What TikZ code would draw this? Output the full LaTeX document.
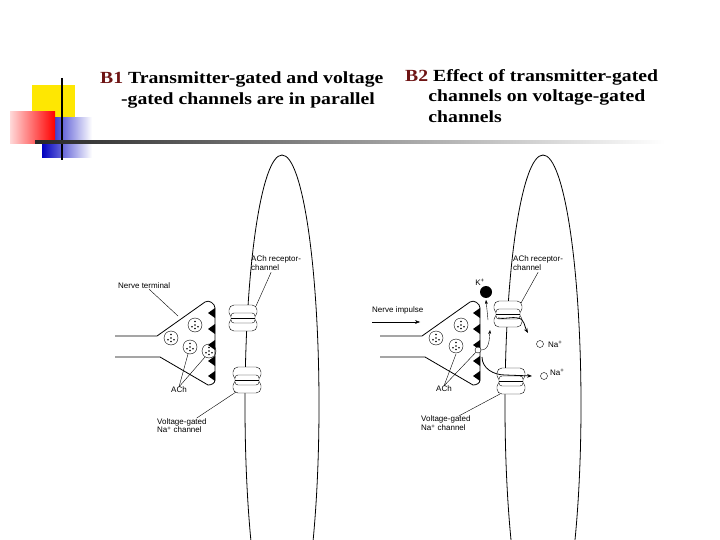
\documentclass[tikz,border=0pt]{standalone}
\usepackage{fontspec}
\setmainfont{Liberation Serif}
\setsansfont{Liberation Sans}
\usetikzlibrary{arrows.meta}
\definecolor{titlered}{RGB}{110,20,20}
\tikzset{
  lbl/.style={font=\sffamily\fontsize{8}{9}\selectfont, align=left, inner sep=0pt},
  lead/.style={thin},
  ttl/.style={font=\bfseries\fontsize{17}{20.5}\selectfont, align=left, inner sep=0pt, anchor=north west, transform shape, xscale=1.16},
  chan/.pic={
    \draw[fill=white, rounded corners=5pt] (-14,-13) rectangle (14,-0.5);
    \draw[fill=white, rounded corners=5pt] (-14,0.5) rectangle (14,13);
    \draw[fill=white, rounded corners=3pt] (-12,-5) -- (12,-5) -- (12,5) -- (-12,5) -- cycle;
    \draw (-12,0) -- (12,0);
  },
  vesicle/.pic={
    \draw (0,0) circle (7);
    \foreach \a in {30,150,270,90} \fill (\a:3.5) circle (0.9);
    \fill (0,0) circle (0.9);
  }
}
\newcommand{\terminal}[1]{%
  \begin{scope}[xshift=#1]
  \draw[thick] (115,336) -- (157,336) -- (205,302) to[out=35,in=90] (215,308) -- (215,380)
    to[out=-90,in=0] (208,385) -- (160,357) -- (115,357);
  \foreach \y in {313,329,345,361,376}
    \fill (215,\y-5) -- (208,\y) -- (215,\y+5) -- cycle;
  \end{scope}}
\begin{document}
\begin{tikzpicture}[x=1pt, y=-1pt]
\useasboundingbox (0,0) rectangle (720,540);
% slide decoration
\fill[yellow!90!orange] (32,85) rectangle (75,122);
\shade[left color=blue!75!black, right color=white] (42,118) rectangle (92,158);
\shade[left color=red!15, right color=red] (10,112) rectangle (55,144);
\draw[line width=1.3pt] (62,78) -- (62,160);
\shade[left color=black!85, right color=white] (35,141) rectangle (665,143.5);
% titles
\node[ttl] (t1) at (100,72) {\textcolor{titlered}{B1} Transmitter-gated and voltage\\\hspace{18pt}-gated channels are in parallel};
\node[ttl] (t2) at (405,69) {\textcolor{titlered}{B2} Effect of transmitter-gated\\\hspace{20pt}channels on voltage-gated\\\hspace{20pt}channels};
% cells
\begin{scope}
\clip (0,150) rectangle (720,540);
\draw[thick] (282,405) ellipse (37 and 250);
\draw[thick] (543,405) ellipse (38 and 250);
\end{scope}
% B1
\terminal{0}
\pic at (171,338) {vesicle};
\pic at (195,325) {vesicle};
\pic at (190,347) {vesicle};
\pic at (209,351) {vesicle};
\pic at (243,318) {chan};
\pic at (247,380) {chan};
\node[lbl, anchor=north west] (nt1) at (118,283) {Nerve terminal};
\node[lbl, anchor=north west] (ar1) at (251,256) {ACh receptor-\\channel};
\node[lbl] (ach1) at (179,390) {ACh};
\node[lbl, anchor=north west] (vg1) at (157,418) {Voltage-gated\\Na\textsuperscript{+} channel};
\coordinate (nt1e) at (178,316);
\coordinate (ar1e) at (256,306);
\coordinate (vg1e) at (236,392);
\draw[lead] (nt1.south) ++(5,0) -- (nt1e);
\draw[lead] (ar1.south) ++(-5,1) -- (ar1e);
\draw[lead] (ach1.north) -- (188,354);
\draw[lead] (ach1.north) -- (205,357);
\draw[lead] (vg1.north east) ++(-10,0) -- (vg1e);
% B2
\terminal{265}
\pic at (436,338) {vesicle};
\pic at (461,325) {vesicle};
\pic at (456,346) {vesicle};
\pic at (508,314) {chan};
\pic at (511,381) {chan};
\node[lbl, anchor=north west] (ni) at (372,307) {Nerve impulse};
\coordinate (nia) at (372,322);
\coordinate (nib) at (420,322);
\draw[-{Stealth[length=5pt]}] (nia) -- (nib);
\node[lbl, anchor=south] (kp) at (480,286) {K\textsuperscript{+}};
\fill (486,292) circle (6) coordinate (kc);
\coordinate (kbase) at (488,320);
\draw[-{Stealth[length=4pt]}] (kbase) -- (486,300);
\node[draw, circle, inner sep=0pt, minimum size=6pt, fill=white] (ach2) at (478,350) {};
\draw[-{Stealth[length=4pt]}] (ach2.east) to[out=0,in=-95] (490,330);
\draw[thick, -{Stealth[length=5pt]}] (498,318) to[out=-10,in=170] (518,318) to[out=-10,in=120] (528,333);
\node[draw, circle, inner sep=0pt, minimum size=7pt] (na1) at (540,344) {};
\node[lbl, anchor=west] (na1l) at (548,344) {Na\textsuperscript{+}};
\draw[thick, -{Stealth[length=5pt]}] (482,357) to[out=-90,in=180] (505,375) -- (532,376);
\node[draw, circle, inner sep=0pt, minimum size=7pt] (na2) at (544,376) {};
\node[lbl, anchor=west] (na2l) at (550,372) {Na\textsuperscript{+}};
\node[lbl] (ach2l) at (444,389) {ACh};
\draw[lead] (ach2l.north) -- (456,354);
\draw[lead] (ach2l.north) -- (ach2);
\node[lbl, anchor=north west] (ar2) at (513,256) {ACh receptor-\\channel};
\coordinate (ar2e) at (521,303);
\draw[lead] (ar2.south) ++(0,1) -- (ar2e);
\node[lbl, anchor=north west] (vg2) at (421,416) {Voltage-gated\\Na\textsuperscript{+} channel};
\coordinate (vg2e) at (500,394);
\draw[lead] (vg2.north east) ++(-12,0) -- (vg2e);
\end{tikzpicture}
\end{document}
